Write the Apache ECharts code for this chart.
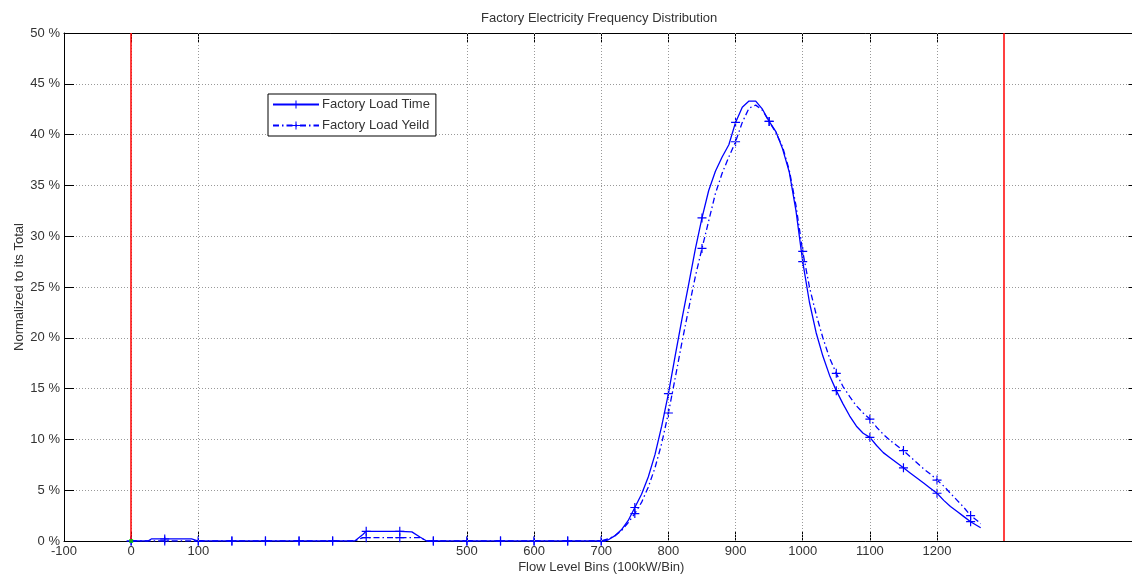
<!DOCTYPE html>
<html>
<head>
<meta charset="utf-8">
<script src="https://cdn.jsdelivr.net/npm/echarts@6/dist/echarts.min.js"></script>
<style>
html,body{margin:0;padding:0;background:#fff;}
#chart{width:1132px;height:576px;}
</style>
</head>
<body>
<div id="chart"></div>
<script>
// ---- data ----
const titleText = 'Factory Electricity Frequency Distribution';
const xName = 'Flow Level Bins (100kW/Bin)';
const yName = 'Normalized to its Total';
const seriesNames = ['Factory Load Time', 'Factory Load Yeild'];

const xBins = [0, 25, 30, 50, 90, 100, 150, 200, 250, 300, 333, 345, 350, 400, 418, 430, 440, 450, 500, 550, 600, 650, 700,
  710, 720, 730, 740, 750, 760, 770, 780, 790, 800, 810, 820, 830, 840, 850, 860, 870, 880, 890, 900,
  910, 920, 930, 940, 950, 960, 970, 980, 990, 1000, 1010, 1020, 1030, 1040, 1050, 1060, 1070, 1080, 1090, 1100,
  1110, 1120, 1130, 1140, 1150, 1160, 1170, 1180, 1190, 1200, 1210, 1220, 1230, 1240, 1250, 1260, 1265];

const loadTime = [0, 0, 0.2, 0.2, 0.2, 0, 0, 0, 0, 0, 0, 0.65, 0.95, 0.95, 0.9, 0.4, 0, 0, 0, 0, 0, 0, 0,
  0.1, 0.5, 1.1, 2.0, 3.3, 4.6, 6.3, 8.5, 11.3, 14.5, 18.2, 21.8, 25.2, 28.7, 31.8, 34.5, 36.4, 37.8, 39.0, 41.2,
  42.7, 43.3, 43.3, 42.5, 41.3, 40.3, 38.6, 36.3, 32.5, 27.5, 23.5, 20.5, 18.2, 16.3, 14.8, 13.5, 12.3, 11.3, 10.6, 10.2,
  9.4, 8.7, 8.2, 7.7, 7.2, 6.7, 6.2, 5.7, 5.2, 4.7, 4.0, 3.4, 2.9, 2.4, 1.9, 1.5, 1.3];

const loadYield = [0, 0, 0, 0, 0, 0, 0, 0, 0, 0, 0, 0.33, 0.33, 0.33, 0.33, 0.33, 0, 0, 0, 0, 0, 0, 0,
  0.2, 0.5, 1.0, 1.8, 2.7, 3.8, 5.3, 7.2, 9.6, 12.6, 16.0, 19.5, 22.8, 26.0, 28.8, 31.5, 34.2, 36.2, 37.8, 39.3,
  41.2, 42.6, 42.9, 42.4, 41.3, 40.2, 38.8, 36.5, 33.0, 28.5, 25.0, 22.3, 20.0, 18.0, 16.5, 15.2, 14.2, 13.3, 12.6, 12.0,
  11.2, 10.5, 9.9, 9.4, 8.9, 8.3, 7.7, 7.1, 6.6, 6.0, 5.4, 4.7, 4.0, 3.3, 2.5, 2.0, 1.7];

const markerStep = 50;
const originPoint = [[0, 0]];
const limitLines = [0, 1300];
const xTickLabels = [-100, 0, 100, 500, 600, 700, 800, 900, 1000, 1100, 1200];
const xTicks = [0, 100, 500, 600, 700, 800, 900, 1000, 1100, 1200];
const xGridLines = [0, 100, 500, 600, 700, 800, 900, 1000, 1100, 1200];

// ---- chart ----
const FONT = '"Liberation Sans", Arial, sans-serif';
const FS = 13;
const TXT = '#333';
const PLUS = 'path://M-1,-0.13H1V0.13H-1ZM-0.13,-1H0.13V1H-0.13Z';
const BLUE = '#0000ff';

function build(vals) {
  return xBins.map((x, i) => {
    const d = { value: [x, vals[i]] };
    if (x % markerStep !== 0) d.symbol = 'none';
    return d;
  });
}

const chart = echarts.init(document.getElementById('chart'), null, { renderer: 'canvas' });
const axisCommon = { type: 'value', min: -100, max: 1500, interval: 100 };
chart.setOption({
  animation: false,
  backgroundColor: '#fff',
  title: {
    text: titleText, left: 481, top: 12, padding: 0,
    textStyle: { fontFamily: FONT, fontSize: FS, fontWeight: 'normal', color: TXT }
  },
  grid: { left: 64, top: 33, width: 1074.5, height: 508, containLabel: false, outerBoundsMode: 'none' },
  legend: {
    data: seriesNames,
    orient: 'vertical', left: 268, top: 94,
    itemWidth: 46, itemHeight: 10, itemGap: 8,
    padding: [4, 6, 4, 4],
    borderColor: '#000', borderWidth: 1, backgroundColor: '#fff',
    textStyle: { fontFamily: FONT, fontSize: FS, color: TXT, padding: [0, 0, 0, -2] }
  },
  xAxis: [
    Object.assign({}, axisCommon, {
      position: 'bottom',
      name: xName, nameLocation: 'middle', nameGap: 20, nameMoveOverlap: false,
      nameTextStyle: { fontFamily: FONT, fontSize: FS, color: TXT },
      axisLine: { show: true, onZero: false, lineStyle: { color: '#000', width: 1 } },
      axisTick: { show: true, inside: true, length: 10, customValues: xTicks, lineStyle: { color: '#000' } },
      axisLabel: { show: true, customValues: xTickLabels, formatter: v => String(v), margin: 4, fontFamily: FONT, fontSize: FS, color: TXT },
      splitLine: { show: false }
    }),
    Object.assign({}, axisCommon, {
      position: 'top',
      axisLine: { show: true, onZero: false, lineStyle: { color: '#000', width: 1 } },
      axisTick: { show: true, inside: true, length: 10, customValues: xTicks, lineStyle: { color: '#000' } },
      axisLabel: { show: false },
      splitLine: { show: false }
    })
  ],
  yAxis: [
    {
      type: 'value', min: 0, max: 50, interval: 5, position: 'left',
      name: yName, nameLocation: 'middle', nameGap: 38, nameMoveOverlap: false,
      nameTextStyle: { fontFamily: FONT, fontSize: FS, color: TXT },
      axisLine: { show: true, onZero: false, lineStyle: { color: '#000', width: 1 } },
      axisTick: { show: true, inside: true, length: 10, lineStyle: { color: '#000' } },
      axisLabel: { formatter: v => v + ' %', margin: 4, fontFamily: FONT, fontSize: FS, color: TXT },
      splitLine: { show: true, lineStyle: { color: '#999', width: 1, type: [1, 2] } }
    },
    {
      type: 'value', min: 0, max: 50, interval: 5, position: 'right',
      axisLine: { show: true, onZero: false, lineStyle: { color: '#000', width: 1 } },
      axisTick: { show: true, inside: true, length: 10, lineStyle: { color: '#000' } },
      axisLabel: { show: false },
      splitLine: { show: false }
    }
  ],
  series: [
    {
      name: 'grid', type: 'line', data: [], z: 1, silent: true,
      markLine: {
        silent: true, symbol: ['none', 'none'], animation: false,
        label: { show: false },
        lineStyle: { color: '#999', width: 1, type: [1, 2] },
        data: xGridLines.map(v => ({ xAxis: v }))
      }
    },
    {
      name: 'limits', type: 'line', data: [], z: 2, silent: true,
      markLine: {
        silent: true, symbol: ['none', 'none'], animation: false,
        label: { show: false },
        lineStyle: { color: '#ff0000', width: 1.5, type: 'solid' },
        data: limitLines.map(v => ({ xAxis: v }))
      }
    },
    {
      name: seriesNames[0], type: 'line', data: build(loadTime), z: 4,
      showSymbol: true, showAllSymbol: true, symbol: PLUS, symbolSize: 9,
      lineStyle: { color: BLUE, width: 1.3, type: 'solid' },
      itemStyle: { color: BLUE },
      emphasis: { disabled: true }
    },
    {
      name: seriesNames[1], type: 'line', data: build(loadYield), z: 4,
      showSymbol: true, showAllSymbol: true, symbol: PLUS, symbolSize: 9,
      lineStyle: { color: BLUE, width: 1.3, type: [6, 3, 1.5, 3] },
      itemStyle: { color: BLUE },
      emphasis: { disabled: true }
    },
    {
      name: 'origin', type: 'scatter', data: originPoint, z: 5,
      symbol: 'rect', symbolSize: 4, itemStyle: { color: '#00cc00' }, silent: true
    }
  ]
});
</script>
</body>
</html>
